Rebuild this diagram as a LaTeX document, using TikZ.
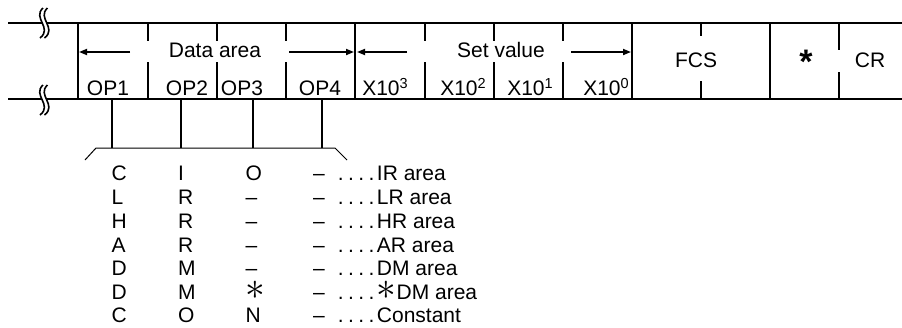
\documentclass[tikz,border=0pt]{standalone}
\usepackage{fontspec}
\usepackage{graphicx}
\setmainfont{Liberation Sans}
\usetikzlibrary{arrows.meta}
\newcommand\mysup[1]{\raisebox{6.8pt}{\fontsize{14.5}{14.5}\selectfont #1}}
\newcommand\myast{\smash{\scalebox{1.9}{$\ast$}}}
\newcommand\mydots{–\hspace{13pt}.\hspace{4.4pt}.\hspace{4.4pt}.\hspace{4.4pt}.\hspace{2.5pt}}
\begin{document}
\begin{tikzpicture}[x=1pt,y=-1pt,
  frame/.style={line width=1.7pt},
  thinline/.style={line width=1pt},
  brk/.style={line width=1.6pt},
  lbl/.style={inner sep=0pt, anchor=base, font=\fontsize{21}{25}\selectfont},
  lblw/.style={inner sep=0pt, anchor=base west, font=\fontsize{21}{25}\selectfont},
  arr/.style={line width=1.7pt, -{Triangle[length=8pt,width=6pt]}},
]
\useasboundingbox (0,0) rectangle (902,327);
% frame lines
\draw[frame] (8,23) -- (902,23);
\draw[frame] (8,99) -- (902,99);
\foreach \x in {78,355,632,770} \draw[frame] (\x,23) -- (\x,99);
\foreach \x in {148,217,286,425,494,563} {
  \draw[frame] (\x,23) -- (\x,41);
  \draw[frame] (\x,62) -- (\x,99);
}
\draw[frame] (701,23) -- (701,36);
\draw[frame] (701,81) -- (701,99);
\draw[frame] (839,23) -- (839,50);
\draw[frame] (839,72) -- (839,99);
% break marks
\foreach \dy in {0,77} {
  \fill[white] (43,8+\dy) .. controls (32,18+\dy) and (53,28+\dy) .. (40,38+\dy)
     -- (44.5,38+\dy) .. controls (57.5,28+\dy) and (36.5,18+\dy) .. (47.5,8+\dy) -- cycle;
  \draw[brk] (43,8+\dy) .. controls (32,18+\dy) and (53,28+\dy) .. (40,38+\dy);
  \draw[brk] (47.5,8+\dy) .. controls (36.5,18+\dy) and (57.5,28+\dy) .. (44.5,38+\dy);
}
% header labels
\node[lbl] (da) at (215,57) {Data area};
\node[lbl] (sv) at (501,57) {Set value};
\coordinate (dal) at (79,52);
\coordinate (dar) at (354,52);
\coordinate (svl) at (357,52);
\coordinate (svr) at (631,52);
\draw[arr] (130,52) -- (dal);
\draw[arr] (289,52) -- (dar);
\draw[arr] (407,52) -- (svl);
\draw[arr] (571,52) -- (svr);
\node[lbl] (op1) at (108,95) {OP1};
\node[lbl] (op2) at (187,95) {OP2};
\node[lbl] (op3) at (242,95) {OP3};
\node[lbl] (op4) at (320,95) {OP4};
\node[lbl] (x3) at (385,95) {X10\mysup{3}};
\node[lbl] (x2) at (463,95) {X10\mysup{2}};
\node[lbl] (x1) at (530,95) {X10\mysup{1}};
\node[lbl] (x0) at (606,95) {X10\mysup{0}};
\node[lbl] (fcs) at (696,67.5) {FCS};
\node[inner sep=0pt, anchor=base, font=\fontsize{34}{34}\selectfont\bfseries] (star) at (806,73) {*};
\node[lbl] (cr) at (870,67.5) {CR};
% lower ticks and bracket
\foreach \x in {112,181,253,322} \draw[frame] (\x,99) -- (\x,148);
\draw[thinline] (85,160) -- (96,148) -- (335,148) -- (347,160);
% table
\foreach \a/\b/\c/\d/\y [count=\i] in {
  C/I/O/{\mydots IR area}/180.5,
  L/R/–/{\mydots LR area}/204.5,
  H/R/–/{\mydots HR area}/228.5,
  A/R/–/{\mydots AR area}/252.5,
  D/M/–/{\mydots DM area}/275.5,
  D/M/\myast/{\mydots \myast DM area}/299.5,
  C/O/N/{\mydots Constant}/322.5} {
  \node[lblw] (r\i c1) at (111.5,\y) {\a};
  \node[lblw] (r\i c2) at (178,\y) {\b};
  \node[lblw] (r\i c3) at (245.5,\y) {\c};
  \node[lblw] (r\i c4) at (313,\y) {\d};
}
\end{tikzpicture}
\end{document}
